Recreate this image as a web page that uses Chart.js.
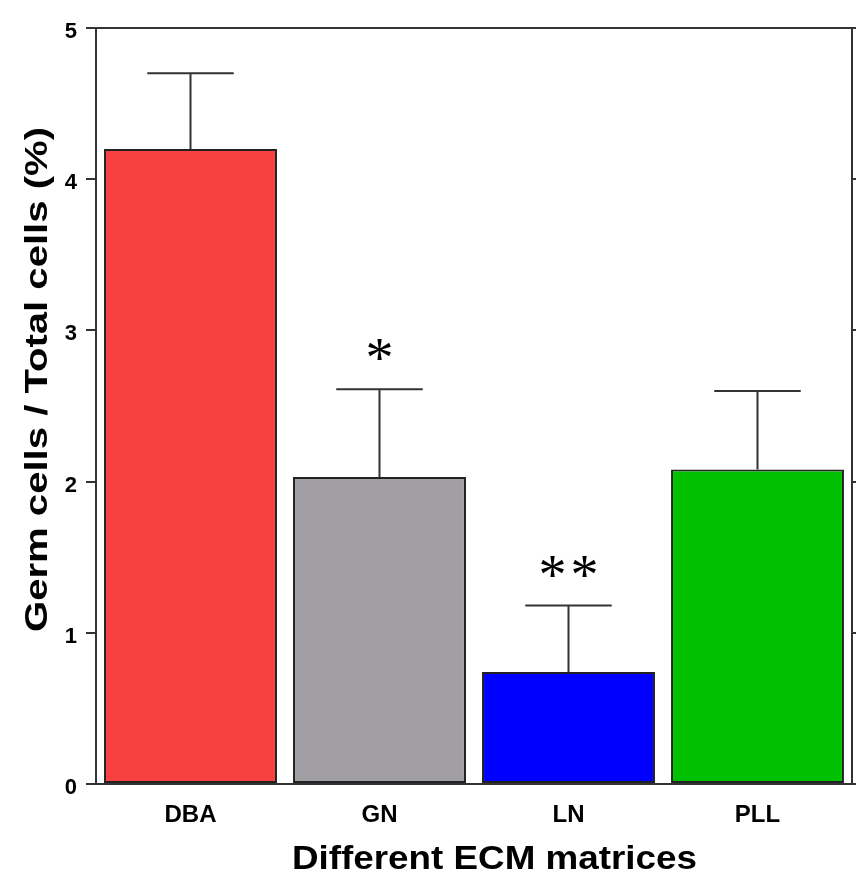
<!DOCTYPE html>
<html>
<head>
<meta charset="utf-8">
<script src="https://cdn.jsdelivr.net/npm/chart.js@4.4.1/dist/chart.umd.min.js"></script>
<style>
html,body{margin:0;padding:0;background:#fff;}
#wrap{width:856px;height:877px;}
</style>
</head>
<body>
<div id="wrap"><canvas id="c" width="856" height="877"></canvas></div>
<script>
const categories = ['DBA', 'GN', 'LN', 'PLL'];
const means = [4.20, 2.03, 0.74, 2.08];
const errors = [0.50, 0.58, 0.44, 0.52];
const significance = ['', '*', '**', ''];
const yTicks = [0, 1, 2, 3, 4, 5];
const barColors = ['#f74141', '#a19fa4', '#0000ff', '#00c000'];
const xTitle = 'Different ECM matrices';
const yTitle = 'Germ cells / Total cells (%)';

const AX = '#333333';
const SANS = '"Liberation Sans", Arial, sans-serif';

function stretchedText(ctx, text, x, y, targetWidth) {
  const w = ctx.measureText(text).width;
  const sx = targetWidth / w;
  ctx.save();
  ctx.translate(x, y);
  ctx.scale(sx, 1);
  ctx.fillText(text, 0, 0);
  ctx.restore();
}

const extrasPlugin = {
  id: 'extras',
  afterDraw(chart) {
    const ctx = chart.ctx;
    const y = chart.scales.y;
    const xs = chart.scales.x;
    const meta = chart.getDatasetMeta(0);
    const ca = chart.chartArea;
    ctx.save();
    // top frame line
    ctx.strokeStyle = AX;
    ctx.lineWidth = 2;
    ctx.beginPath();
    ctx.moveTo(ca.left, y.getPixelForValue(5));
    ctx.lineTo(ca.right + 4, y.getPixelForValue(5));
    ctx.stroke();

    // error bars and significance marks
    meta.data.forEach((bar, i) => {
      const x = bar.x;
      const top = y.getPixelForValue(means[i] + errors[i]);
      const half = bar.width / 4;
      ctx.strokeStyle = AX;
      ctx.lineWidth = 2;
      ctx.beginPath();
      ctx.moveTo(x, bar.y);
      ctx.lineTo(x, top);
      ctx.moveTo(x - half, top);
      ctx.lineTo(x + half, top);
      ctx.stroke();
      if (significance[i]) {
        ctx.fillStyle = '#000';
        ctx.font = '56px "Liberation Serif", serif';
        ctx.textAlign = 'center';
        ctx.textBaseline = 'alphabetic';
        ctx.letterSpacing = '4px';
        ctx.fillText(significance[i], x + 2, top - 12);
        ctx.letterSpacing = '0px';
      }
    });

    // y tick labels
    ctx.fillStyle = '#000';
    ctx.font = 'bold 22px ' + SANS;
    ctx.textAlign = 'right';
    ctx.textBaseline = 'alphabetic';
    yTicks.forEach(v => {
      ctx.fillText(String(v), 77, y.getPixelForValue(v) + 10);
    });

    // x tick labels
    ctx.font = 'bold 24px ' + SANS;
    ctx.textAlign = 'center';
    categories.forEach((c, i) => {
      ctx.fillText(c, xs.getPixelForValue(i), 822);
    });

    // x title
    ctx.font = 'bold 33px ' + SANS;
    ctx.textAlign = 'left';
    stretchedText(ctx, xTitle, 292, 869, 405);

    // y title (rotated)
    ctx.save();
    ctx.translate(47, 632);
    ctx.rotate(-Math.PI / 2);
    ctx.font = 'bold 31px ' + SANS;
    ctx.textAlign = 'left';
    stretchedText(ctx, yTitle, 0, 0, 505);
    ctx.restore();

    ctx.restore();
  }
};

new Chart(document.getElementById('c'), {
  type: 'bar',
  data: {
    labels: categories,
    datasets: [{
      data: means,
      backgroundColor: barColors,
      borderColor: '#222222',
      borderWidth: 2,
      borderSkipped: false,
      barPercentage: 0.915,
      categoryPercentage: 1.0
    }]
  },
  plugins: [extrasPlugin],
  options: {
    responsive: false,
    animation: false,
    devicePixelRatio: 1,
    layout: { padding: { top: 28, left: 0, right: 0, bottom: 0 } },
    plugins: { legend: { display: false }, tooltip: { enabled: false } },
    scales: {
      x: {
        position: 'bottom',
        afterFit(s) { s.height = 93; },
        grid: { display: false, drawTicks: false },
        border: { display: true, color: AX, width: 2 },
        ticks: { display: false },
        title: { display: false }
      },
      y: {
        position: 'left',
        min: 0, max: 5,
        afterFit(s) { s.width = 96; },
        afterBuildTicks(s) { s.ticks = yTicks.map(v => ({ value: v })); },
        grid: { drawOnChartArea: false, drawTicks: true, tickLength: 10, color: AX, lineWidth: 2 },
        border: { display: true, color: AX, width: 2 },
        ticks: { display: false },
        title: { display: false }
      },
      y2: {
        position: 'right',
        min: 0, max: 5,
        afterFit(s) { s.width = 4; },
        afterBuildTicks(s) { s.ticks = yTicks.map(v => ({ value: v })); },
        grid: { drawOnChartArea: false, drawTicks: true, tickLength: 10, color: AX, lineWidth: 2 },
        border: { display: true, color: AX, width: 2 },
        ticks: { display: false }
      }
    }
  }
});
</script>
</body>
</html>
